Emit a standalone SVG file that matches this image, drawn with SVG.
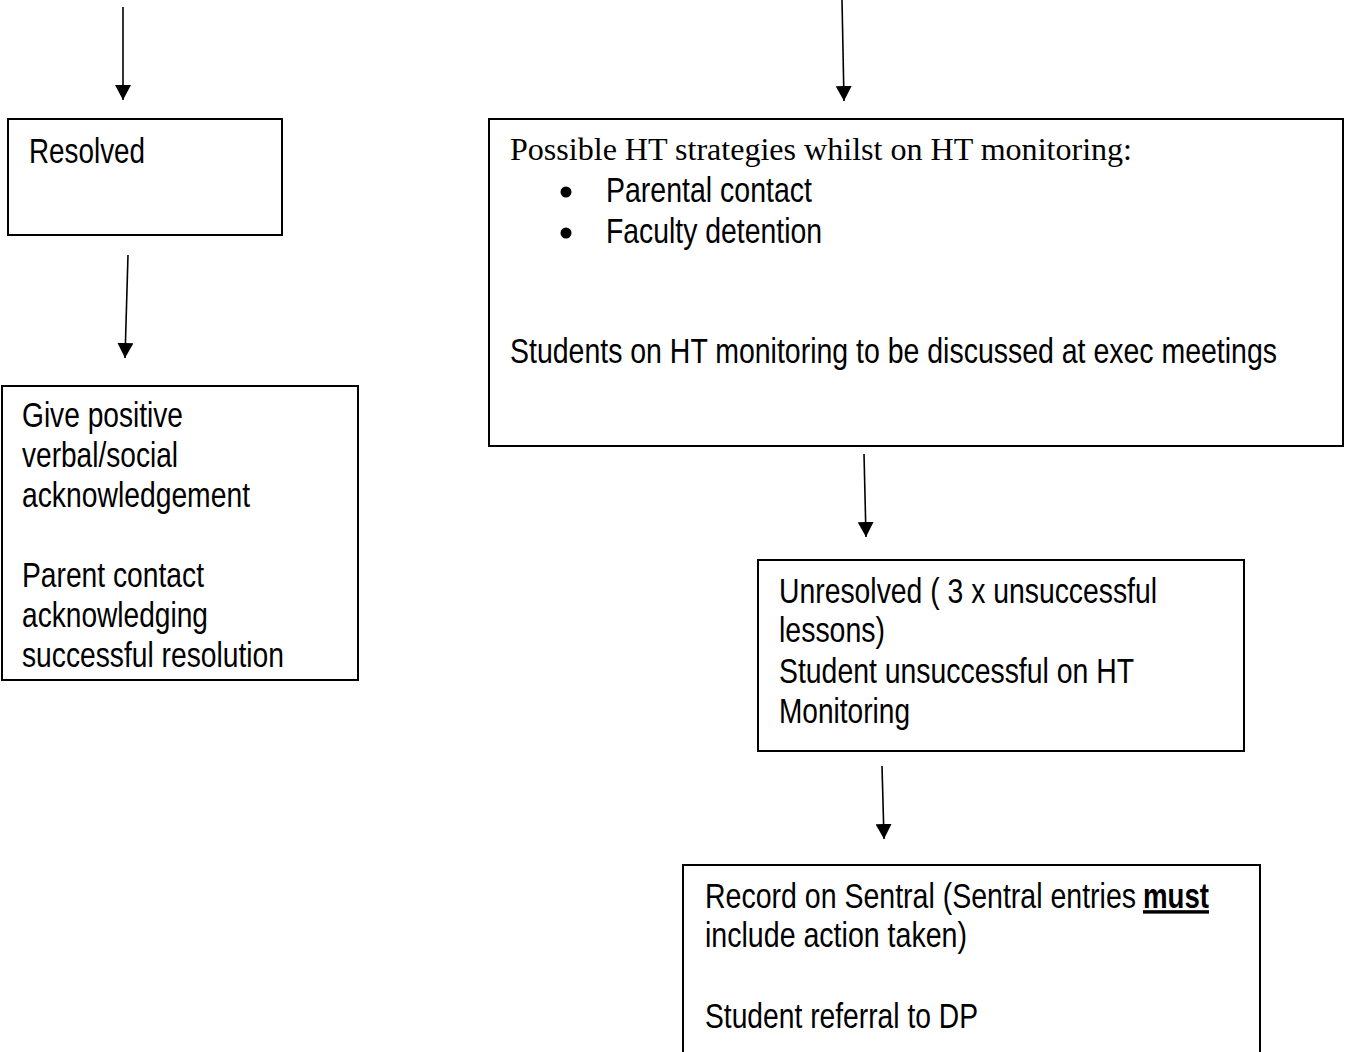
<svg xmlns="http://www.w3.org/2000/svg" width="1350" height="1052" viewBox="0 0 1350 1052">
  <style>
    .box { fill: #ffffff; stroke: #000000; stroke-width: 2; }
    .conn { stroke: #000000; stroke-width: 1.6; fill: none; }
    .t { font-family: "Liberation Sans", Arial, sans-serif; font-size: 28.5px; fill: #000000; }
    .s { font-family: "Liberation Serif", "Times New Roman", serif; font-size: 32px; fill: #000000; }
    .b { font-weight: bold; text-decoration: underline; }
  </style>
  <defs>
    <marker id="ah" markerUnits="userSpaceOnUse" viewBox="0 0 15 16" refX="15" refY="8" markerWidth="15" markerHeight="16" orient="auto">
      <path d="M0,0 L15,8 L0,16 Z" fill="#000000"/>
    </marker>
  </defs>
  <rect width="1350" height="1052" fill="#ffffff"/>

  <g id="connectors">
    <line class="conn" x1="123" y1="7" x2="123" y2="100" marker-end="url(#ah)"/>
    <line class="conn" x1="128" y1="255" x2="125" y2="358" marker-end="url(#ah)"/>
    <line class="conn" x1="842" y1="0" x2="844" y2="101" marker-end="url(#ah)"/>
    <line class="conn" x1="864" y1="454" x2="866" y2="537" marker-end="url(#ah)"/>
    <line class="conn" x1="882" y1="766" x2="884" y2="839" marker-end="url(#ah)"/>
  </g>

  <g id="node-resolved">
    <rect class="box" x="8" y="119" width="274" height="116"/>
    <text class="t" transform="translate(29,163) scale(1,1.21)" textLength="116" lengthAdjust="spacingAndGlyphs">Resolved</text>
  </g>

  <g id="node-acknowledge">
    <rect class="box" x="2" y="386" width="356" height="294"/>
    <text class="t" transform="translate(22,427) scale(1,1.21)" textLength="161" lengthAdjust="spacingAndGlyphs">Give positive</text>
    <text class="t" transform="translate(22,467) scale(1,1.21)" textLength="156" lengthAdjust="spacingAndGlyphs">verbal/social</text>
    <text class="t" transform="translate(22,507) scale(1,1.21)" textLength="228" lengthAdjust="spacingAndGlyphs">acknowledgement</text>
    <text class="t" transform="translate(22,587) scale(1,1.21)" textLength="182" lengthAdjust="spacingAndGlyphs">Parent contact</text>
    <text class="t" transform="translate(22,627) scale(1,1.21)" textLength="186" lengthAdjust="spacingAndGlyphs">acknowledging</text>
    <text class="t" transform="translate(22,667) scale(1,1.21)" textLength="262" lengthAdjust="spacingAndGlyphs">successful resolution</text>
  </g>

  <g id="node-ht-strategies">
    <rect class="box" x="489" y="119" width="854" height="327"/>
    <text class="s" x="510" y="160" textLength="622" lengthAdjust="spacingAndGlyphs">Possible HT strategies whilst on HT monitoring:</text>
    <circle cx="566" cy="192" r="5.5" fill="#000000"/>
    <text class="t" transform="translate(606,202) scale(1,1.21)" textLength="206" lengthAdjust="spacingAndGlyphs">Parental contact</text>
    <circle cx="566" cy="233" r="5.5" fill="#000000"/>
    <text class="t" transform="translate(606,243) scale(1,1.21)" textLength="216" lengthAdjust="spacingAndGlyphs">Faculty detention</text>
    <text class="t" transform="translate(510,363) scale(1,1.21)" textLength="767" lengthAdjust="spacingAndGlyphs">Students on HT monitoring to be discussed at exec meetings</text>
  </g>

  <g id="node-unresolved">
    <rect class="box" x="758" y="560" width="486" height="191"/>
    <text class="t" transform="translate(779,603) scale(1,1.21)" textLength="378" lengthAdjust="spacingAndGlyphs">Unresolved ( 3 x unsuccessful</text>
    <text class="t" transform="translate(779,642) scale(1,1.21)" textLength="106" lengthAdjust="spacingAndGlyphs">lessons)</text>
    <text class="t" transform="translate(779,683) scale(1,1.21)" textLength="355" lengthAdjust="spacingAndGlyphs">Student unsuccessful on HT</text>
    <text class="t" transform="translate(779,723) scale(1,1.21)" textLength="131" lengthAdjust="spacingAndGlyphs">Monitoring</text>
  </g>

  <g id="node-record">
    <rect class="box" x="683" y="865" width="577" height="200"/>
    <text class="t" transform="translate(705,908) scale(1,1.21)" textLength="431" lengthAdjust="spacingAndGlyphs">Record on Sentral (Sentral entries</text>
    <text class="t b" transform="translate(1143,908) scale(1,1.21)" textLength="66" lengthAdjust="spacingAndGlyphs">must</text>
    <text class="t" transform="translate(705,947) scale(1,1.21)" textLength="262" lengthAdjust="spacingAndGlyphs">include action taken)</text>
    <text class="t" transform="translate(705,1028) scale(1,1.21)" textLength="273" lengthAdjust="spacingAndGlyphs">Student referral to DP</text>
  </g>
</svg>
